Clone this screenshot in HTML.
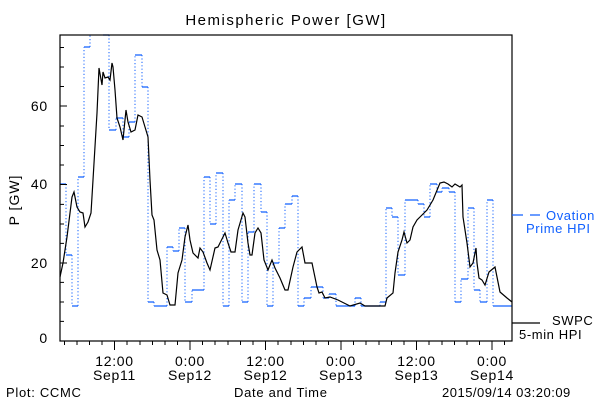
<!DOCTYPE html>
<html><head><style>
html,body{margin:0;padding:0;background:#fff;}
svg{display:block;font-family:"Liberation Sans",sans-serif;}
</style></head><body>
<svg width="600" height="400" viewBox="0 0 600 400" xmlns="http://www.w3.org/2000/svg">
<rect width="600" height="400" fill="#fff"/>
<text x="286" y="25" font-size="15" letter-spacing="1.5" text-anchor="middle" fill="#000">Hemispheric Power [GW]</text>
<path fill="none" stroke="#1060ff" stroke-width="1.3" d="
M60,184H66 M66,255H72 M72,306H78 M78,177H84 M84,47H90 M103,35H109 M109,130H116 M116,118H123 M123,137H129 M129,122H135 M135,55H142 M142,87H148 M148,302H154 M154,306H167 M167,247H173 M173,251H179 M179,228H185 M185,302H192 M192,290H204 M204,177H210 M210,224H216 M216,173H223 M223,306H229 M229,200H235 M235,184H242 M242,302H248 M248,232H254 M254,184H261 M261,212H267 M267,306H273 M273,263H279 M279,228H285 M285,204H292 M292,196H298 M298,306H304 M304,298H311 M311,287H323 M323,298H329 M329,294H336 M336,306H355 M355,298H361 M361,306H380 M380,302H386 M386,208H392 M392,217H398 M398,275H405 M405,200H418 M418,204H424 M424,217H430 M430,184H437 M437,192H442 M442,188H449 M449,192H455 M455,302H461 M461,279H468 M468,208H474 M474,290H480 M480,302H487 M487,200H493 M493,306H512"/>
<path fill="none" stroke="#1060ff" stroke-width="1" stroke-dasharray="1.2,2.2" d="
M66,184V255 M72,255V306 M78,306V177 M84,177V47 M90,47V35 M109,35V130 M116,130V118 M123,118V137 M129,137V122 M135,122V55 M142,55V87 M148,87V302 M154,302V306 M167,306V247 M173,247V251 M179,251V228 M185,228V302 M192,302V290 M204,290V177 M210,177V224 M216,224V173 M223,173V306 M229,306V200 M235,200V184 M242,184V302 M248,302V232 M254,232V184 M261,184V212 M267,212V306 M273,306V263 M279,263V228 M285,228V204 M292,204V196 M298,196V306 M304,306V298 M311,298V287 M323,287V298 M329,298V294 M336,294V306 M355,306V298 M361,298V306 M380,306V302 M386,302V208 M392,208V217 M398,217V275 M405,275V200 M418,200V204 M424,204V217 M430,217V184 M437,184V192 M442,192V188 M449,188V192 M455,192V302 M461,302V279 M468,279V208 M474,208V290 M480,290V302 M487,302V200 M493,200V306 M512,306V215"/>
<polyline fill="none" stroke="#000" stroke-width="1.2" points="60,277 63,263 67,237 72,197 74,192 77,207 80,212 83,213 85,227 88,222 91,213 93,180 97,113 99,68 102,85 103,72 105,78 108,77 110,80 112,63 113,67 115,90 117,118 120,127 123,140 126,110 128,122 131,132 135,130 138,115 142,117 145,127 148,137 150,180 152,215 154,220 157,250 160,260 163,293 167,295 170,305 175,305 178,273 182,260 185,237 188,225 190,240 193,253 198,258 200,248 203,252 207,263 210,270 215,248 218,247 225,233 228,243 231,252 235,252 238,230 243,213 245,217 248,243 250,255 252,255 255,233 258,228 261,233 264,260 268,270 272,260 275,268 280,278 285,290 288,290 293,267 297,252 302,247 305,263 312,263 317,287 319,293 322,292 325,298 330,297 338,300 350,306 360,303 365,306 385,306 387,298 393,293 395,273 398,252 402,240 404,232 407,243 410,240 413,227 417,220 420,217 427,210 433,200 440,183 444,182 448,184 452,187 455,184 460,187 462,185 463,217 467,243 470,267 473,263 476,248 477,263 479,278 482,280 485,285 489,272 495,267 500,292 507,298 512,302"/>
<rect x="60" y="35" width="452" height="306" fill="none" stroke="#000" stroke-width="1.2"/>
<g stroke="#000" stroke-width="1">
<path d="M60,341H67 M60,321.4H64 M60,302H64 M60,282.4H64 M60,263H67 M60,243.4H64 M60,224H64 M60,204.4H64 M60,184.5H67 M60,165H64 M60,145.5H64 M60,126H64 M60,106H67 M60,86.5H64 M60,67H64 M60,47.5H64"/>
<path d="M64.5,341V345 M77,341V345 M89.5,341V345 M102,341V345 M114.5,341V350 M127,341V345 M140,341V345 M152.5,341V345 M165,341V345 M177.5,341V345 M190,341V350 M202.5,341V345 M215,341V345 M228,341V345 M240.5,341V345 M253,341V345 M265.5,341V350 M278,341V345 M291,341V345 M303.5,341V345 M316,341V345 M328.5,341V345 M341,341V350 M353.5,341V345 M366,341V345 M379,341V345 M391.5,341V345 M404,341V345 M416.5,341V350 M429,341V345 M442,341V345 M454.5,341V345 M467,341V345 M479.5,341V345 M492,341V350 M504.5,341V345"/>
</g>
<g font-size="14" fill="#000" text-anchor="end" letter-spacing="0.8">
<text x="48" y="343">0</text>
<text x="48" y="268">20</text>
<text x="48" y="189">40</text>
<text x="48" y="111">60</text>
</g>
<text transform="translate(19,200) rotate(-90)" font-size="14" letter-spacing="1" text-anchor="middle" fill="#000">P [GW]</text>
<g font-size="14" fill="#000" text-anchor="middle" letter-spacing="0.7">
<text x="114.5" y="366">12:00</text><text x="114.5" y="380">Sep11</text>
<text x="190" y="366">0:00</text><text x="190" y="380">Sep12</text>
<text x="265.5" y="366">12:00</text><text x="265.5" y="380">Sep12</text>
<text x="341" y="366">0:00</text><text x="341" y="380">Sep13</text>
<text x="416.5" y="366">12:00</text><text x="416.5" y="380">Sep13</text>
<text x="492" y="366">0:00</text><text x="492" y="380">Sep14</text>
</g>
<g font-size="13" fill="#000" letter-spacing="0.7">
<text x="6" y="397">Plot: CCMC</text>
<text x="234" y="397">Date and Time</text>
<text x="442" y="397" letter-spacing="0.5">2015/09/14 03:20:09</text>
</g>
<path d="M512,215H523 M530,215H540" stroke="#1060ff" stroke-width="1.3"/>
<text x="546" y="220" font-size="13" letter-spacing="0.6" fill="#1060ff">Ovation</text>
<text x="526" y="233" font-size="13" letter-spacing="0.6" fill="#1060ff">Prime HPI</text>
<path d="M512,323H540" stroke="#000" stroke-width="1.2"/>
<text x="552" y="325" font-size="13" letter-spacing="0.6" fill="#000">SWPC</text>
<text x="519" y="339" font-size="13" letter-spacing="0.6" fill="#000">5-min HPI</text>
</svg>
</body></html>
